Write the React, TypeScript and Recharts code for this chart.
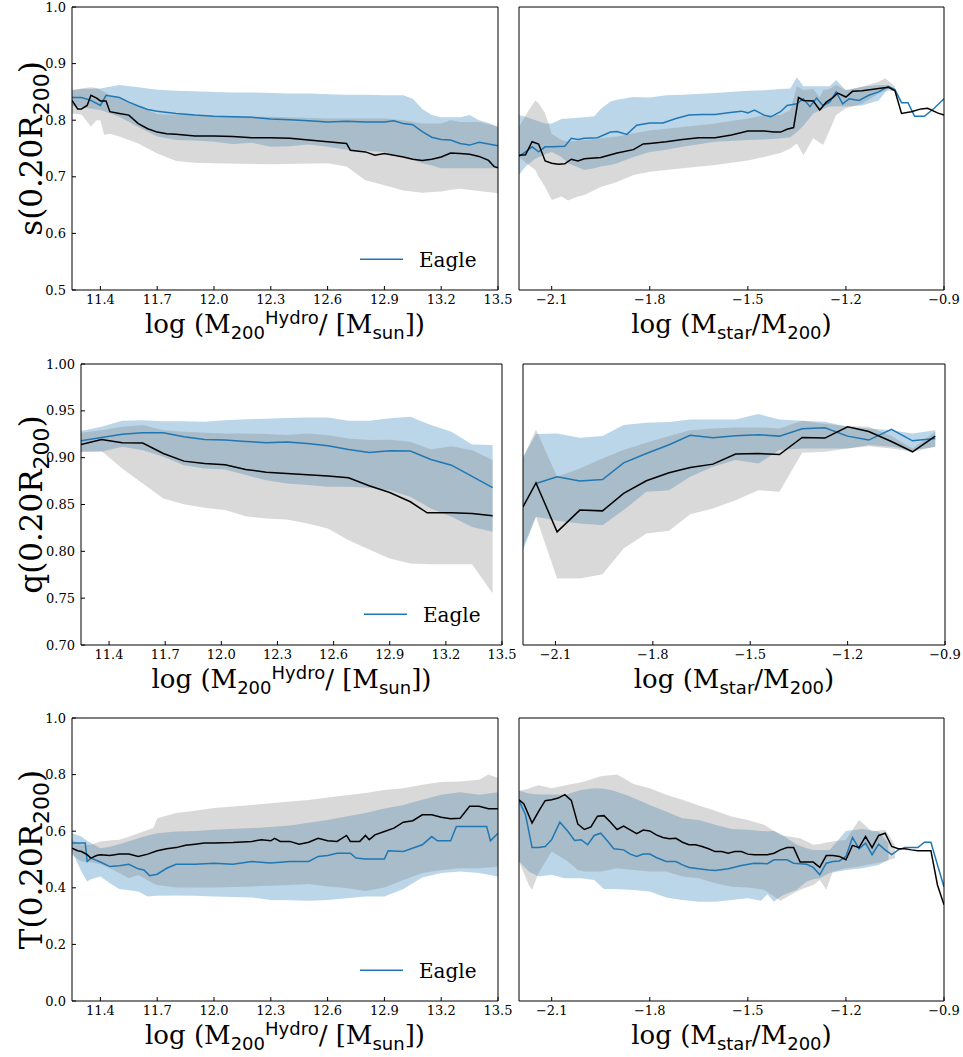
import { ComposedChart, Area, Line, XAxis, YAxis } from "recharts";

type P = [number, number];
type B = [number, number, number];

const SERIF = "DejaVu Serif";
const SANS = "DejaVu Sans";
const BLUE = "#1f77b4";
const GREY = "#808080";

// axis ticks
const massTicks = [11.4, 11.7, 12.0, 12.3, 12.6, 12.9, 13.2, 13.5];
const ratioTicks = [-2.1, -1.8, -1.5, -1.2, -0.9];
const sTicks = [0.5, 0.6, 0.7, 0.8, 0.9, 1.0];
const qTicks = [0.7, 0.75, 0.8, 0.85, 0.9, 0.95, 1.0];
const tTicks = [0, 0.2, 0.4, 0.6, 0.8, 1.0];

// ---- s(0.20R200) vs halo mass ----
const sMassBlue: P[] = [[11.25,0.84],[11.3,0.84],[11.35,0.835],[11.4,0.826],[11.43,0.844],[11.5,0.84],[11.55,0.832],[11.6,0.825],[11.65,0.819],[11.7,0.816],[11.8,0.812],[11.9,0.809],[12.0,0.807],[12.1,0.806],[12.2,0.805],[12.3,0.802],[12.4,0.801],[12.5,0.799],[12.6,0.797],[12.7,0.798],[12.8,0.797],[12.9,0.797],[12.95,0.799],[13.0,0.794],[13.05,0.792],[13.1,0.78],[13.15,0.77],[13.2,0.766],[13.25,0.765],[13.3,0.759],[13.35,0.756],[13.4,0.761],[13.45,0.758],[13.5,0.755]];
const sMassBlack: P[] = [[11.25,0.835],[11.28,0.82],[11.3,0.82],[11.33,0.826],[11.35,0.844],[11.38,0.839],[11.4,0.834],[11.43,0.834],[11.45,0.815],[11.5,0.812],[11.55,0.809],[11.6,0.794],[11.65,0.785],[11.7,0.779],[11.75,0.776],[11.8,0.775],[11.9,0.772],[12.0,0.772],[12.1,0.771],[12.2,0.769],[12.3,0.769],[12.4,0.768],[12.5,0.765],[12.6,0.762],[12.7,0.759],[12.72,0.747],[12.8,0.744],[12.85,0.738],[12.9,0.741],[12.95,0.738],[13.0,0.735],[13.05,0.731],[13.1,0.729],[13.15,0.731],[13.2,0.735],[13.25,0.742],[13.3,0.741],[13.35,0.74],[13.4,0.736],[13.45,0.729],[13.48,0.718],[13.5,0.716]];
const sMassBlueBand: B[] = [[11.25,0.825,0.854],[11.3,0.823,0.855],[11.4,0.818,0.856],[11.5,0.806,0.862],[11.6,0.788,0.858],[11.7,0.771,0.854],[11.8,0.765,0.852],[11.9,0.764,0.851],[12.0,0.762,0.85],[12.1,0.758,0.849],[12.2,0.76,0.849],[12.3,0.753,0.848],[12.4,0.754,0.847],[12.5,0.757,0.847],[12.6,0.753,0.846],[12.7,0.748,0.845],[12.8,0.746,0.845],[12.9,0.744,0.844],[13.0,0.735,0.844],[13.05,0.73,0.838],[13.1,0.724,0.82],[13.15,0.72,0.809],[13.2,0.715,0.805],[13.3,0.715,0.805],[13.35,0.715,0.809],[13.4,0.715,0.8],[13.45,0.715,0.795],[13.5,0.715,0.788]];
const sMassGreyBand: B[] = [[11.25,0.812,0.852],[11.3,0.81,0.856],[11.35,0.789,0.858],[11.38,0.8,0.857],[11.4,0.8,0.854],[11.42,0.774,0.85],[11.45,0.776,0.844],[11.5,0.771,0.838],[11.6,0.759,0.824],[11.7,0.741,0.811],[11.8,0.728,0.809],[11.9,0.725,0.809],[12.0,0.724,0.807],[12.3,0.722,0.806],[12.6,0.724,0.803],[12.7,0.718,0.803],[12.8,0.694,0.803],[12.9,0.685,0.803],[13.0,0.676,0.8],[13.1,0.672,0.794],[13.2,0.674,0.794],[13.25,0.677,0.8],[13.3,0.679,0.797],[13.4,0.675,0.797],[13.5,0.671,0.789]];

// ---- s(0.20R200) vs stellar fraction ----
const sRatioBlue: P[] = [[-2.2,0.736],[-2.18,0.744],[-2.16,0.753],[-2.14,0.744],[-2.12,0.753],[-2.1,0.753],[-2.06,0.754],[-2.04,0.768],[-2.02,0.766],[-2.0,0.768],[-1.96,0.769],[-1.92,0.779],[-1.9,0.78],[-1.87,0.775],[-1.84,0.791],[-1.8,0.795],[-1.76,0.795],[-1.72,0.803],[-1.68,0.809],[-1.64,0.81],[-1.6,0.81],[-1.56,0.813],[-1.52,0.816],[-1.5,0.813],[-1.48,0.818],[-1.45,0.809],[-1.43,0.806],[-1.4,0.815],[-1.38,0.826],[-1.35,0.829],[-1.33,0.838],[-1.31,0.824],[-1.29,0.839],[-1.27,0.826],[-1.25,0.832],[-1.23,0.85],[-1.21,0.829],[-1.19,0.838],[-1.16,0.835],[-1.13,0.844],[-1.1,0.85],[-1.07,0.86],[-1.05,0.854],[-1.03,0.831],[-1.01,0.831],[-0.99,0.807],[-0.96,0.807],[-0.93,0.821],[-0.9,0.838]];
const sRatioBlack: P[] = [[-2.2,0.738],[-2.18,0.739],[-2.16,0.762],[-2.14,0.758],[-2.12,0.728],[-2.1,0.724],[-2.08,0.722],[-2.06,0.723],[-2.04,0.731],[-2.02,0.728],[-2.0,0.732],[-1.95,0.734],[-1.9,0.742],[-1.85,0.748],[-1.82,0.758],[-1.8,0.759],[-1.75,0.762],[-1.7,0.766],[-1.65,0.769],[-1.6,0.769],[-1.55,0.774],[-1.5,0.781],[-1.45,0.781],[-1.42,0.779],[-1.4,0.779],[-1.38,0.784],[-1.36,0.787],[-1.345,0.84],[-1.33,0.835],[-1.3,0.834],[-1.28,0.818],[-1.26,0.832],[-1.24,0.84],[-1.225,0.848],[-1.2,0.841],[-1.18,0.851],[-1.15,0.852],[-1.1,0.856],[-1.07,0.858],[-1.05,0.852],[-1.03,0.812],[-1.0,0.815],[-0.97,0.82],[-0.95,0.821],[-0.92,0.813],[-0.9,0.809]];
const sRatioBlueBand: B[] = [[-2.2,0.703,0.809],[-2.18,0.718,0.806],[-2.15,0.732,0.8],[-2.12,0.74,0.794],[-2.1,0.744,0.794],[-2.07,0.735,0.802],[-2.05,0.724,0.803],[-2.0,0.712,0.805],[-1.97,0.715,0.807],[-1.95,0.718,0.82],[-1.92,0.721,0.833],[-1.9,0.724,0.836],[-1.85,0.735,0.841],[-1.8,0.744,0.84],[-1.75,0.748,0.844],[-1.7,0.753,0.845],[-1.6,0.762,0.848],[-1.5,0.765,0.852],[-1.45,0.766,0.853],[-1.4,0.768,0.855],[-1.37,0.77,0.856],[-1.35,0.779,0.876],[-1.33,0.79,0.86],[-1.3,0.812,0.86],[-1.27,0.82,0.86],[-1.25,0.824,0.86],[-1.23,0.824,0.871],[-1.2,0.824,0.853],[-1.15,0.826,0.859],[-1.1,0.835,0.862],[-1.07,0.856,0.862]];
const sRatioGreyBand: B[] = [[-2.2,0.735,0.788],[-2.17,0.721,0.818],[-2.15,0.712,0.835],[-2.14,0.7,0.83],[-2.12,0.682,0.812],[-2.1,0.659,0.776],[-2.07,0.665,0.765],[-2.05,0.658,0.762],[-2.02,0.665,0.764],[-2.0,0.668,0.765],[-1.95,0.682,0.768],[-1.9,0.691,0.771],[-1.85,0.703,0.777],[-1.8,0.709,0.782],[-1.7,0.715,0.788],[-1.6,0.721,0.794],[-1.5,0.729,0.803],[-1.45,0.735,0.809],[-1.4,0.742,0.809],[-1.37,0.75,0.818],[-1.35,0.759,0.86],[-1.33,0.738,0.853],[-1.3,0.768,0.855],[-1.28,0.76,0.84],[-1.27,0.756,0.853],[-1.25,0.782,0.855],[-1.23,0.809,0.862],[-1.2,0.821,0.853],[-1.15,0.829,0.859],[-1.1,0.847,0.868],[-1.08,0.852,0.874],[-1.05,0.852,0.86]];

// ---- q(0.20R200) vs halo mass ----
const qMassBlue: P[] = [[11.25,0.918],[11.36,0.9216],[11.47,0.925],[11.58,0.9266],[11.69,0.9266],[11.8,0.9223],[11.91,0.9195],[12.02,0.9188],[12.13,0.9173],[12.24,0.916],[12.35,0.9166],[12.46,0.915],[12.57,0.9127],[12.68,0.9088],[12.79,0.9056],[12.9,0.9073],[13.01,0.907],[13.12,0.898],[13.23,0.892],[13.34,0.88],[13.45,0.868]];
const qMassBlack: P[] = [[11.25,0.914],[11.36,0.9195],[11.47,0.916],[11.58,0.9156],[11.69,0.9045],[11.8,0.8963],[11.91,0.8938],[12.02,0.8924],[12.13,0.8874],[12.24,0.8845],[12.35,0.8831],[12.46,0.8817],[12.57,0.8803],[12.68,0.8785],[12.79,0.87],[12.9,0.8628],[13.01,0.8529],[13.1,0.8411],[13.23,0.8411],[13.34,0.8404],[13.45,0.8379]];
const qMassBlueBand: B[] = [[11.25,0.9063,0.9284],[11.36,0.9063,0.933],[11.47,0.9116,0.9394],[11.58,0.908,0.94],[11.69,0.901,0.939],[11.8,0.892,0.939],[11.91,0.8885,0.9384],[12.02,0.8874,0.94],[12.13,0.8814,0.941],[12.24,0.876,0.9416],[12.35,0.8724,0.9423],[12.46,0.8707,0.943],[12.57,0.869,0.943],[12.68,0.869,0.9394],[12.79,0.868,0.9394],[12.9,0.8653,0.942],[13.01,0.8582,0.9437],[13.12,0.8457,0.9348],[13.23,0.8368,0.9277],[13.34,0.8261,0.914],[13.45,0.8208,0.9134]];
const qMassGreyBand: B[] = [[11.25,0.9063,0.9266],[11.36,0.907,0.9294],[11.47,0.8885,0.933],[11.58,0.8724,0.9348],[11.69,0.8564,0.9294],[11.8,0.8504,0.9277],[11.91,0.8464,0.9266],[12.02,0.844,0.9259],[12.13,0.8375,0.9259],[12.24,0.835,0.9252],[12.35,0.834,0.9241],[12.46,0.8297,0.9259],[12.57,0.8244,0.924],[12.68,0.8119,0.9205],[12.79,0.802,0.9188],[12.9,0.7923,0.919],[13.01,0.787,0.917],[13.12,0.7862,0.9088],[13.23,0.7862,0.9123],[13.34,0.7862,0.908],[13.45,0.7549,0.8974]];

// ---- q(0.20R200) vs stellar fraction ----
const qRatioBlue: P[] = [[-2.16,0.8725],[-2.095,0.8796],[-2.025,0.875],[-1.955,0.8767],[-1.89,0.8945],[-1.82,0.9045],[-1.75,0.9138],[-1.685,0.9238],[-1.615,0.9213],[-1.545,0.9234],[-1.475,0.9245],[-1.41,0.923],[-1.34,0.9309],[-1.27,0.932],[-1.2,0.923],[-1.135,0.9188],[-1.065,0.9302],[-1.0,0.918],[-0.93,0.9205]];
const qRatioBlack: P[] = [[-2.2,0.8475],[-2.16,0.8731],[-2.095,0.8208],[-2.025,0.844],[-1.955,0.8432],[-1.89,0.8618],[-1.82,0.8753],[-1.75,0.8839],[-1.685,0.8895],[-1.615,0.8931],[-1.545,0.9038],[-1.475,0.9045],[-1.41,0.9034],[-1.34,0.9216],[-1.27,0.9209],[-1.2,0.933],[-1.135,0.928],[-1.065,0.9173],[-1.0,0.9063],[-0.93,0.923]];
const qRatioBlueBand: B[] = [[-2.2,0.8012,0.901],[-2.16,0.8368,0.9252],[-2.095,0.8326,0.9259],[-2.025,0.8297,0.9213],[-1.955,0.8279,0.923],[-1.89,0.844,0.9348],[-1.82,0.8635,0.9373],[-1.75,0.8653,0.938],[-1.685,0.8796,0.9408],[-1.615,0.8903,0.9408],[-1.545,0.8974,0.9408],[-1.475,0.8938,0.9466],[-1.41,0.9081,0.9408],[-1.34,0.9099,0.9394],[-1.27,0.9099,0.9384],[-1.2,0.9099,0.933],[-1.135,0.9134,0.9312],[-1.065,0.9116,0.9294],[-1.0,0.908,0.9259],[-0.93,0.9116,0.9294]];
const qRatioGreyBand: B[] = [[-2.2,0.8048,0.8991],[-2.16,0.8368,0.9302],[-2.095,0.7709,0.8796],[-2.025,0.7709,0.8885],[-1.955,0.7755,0.8991],[-1.89,0.803,0.9081],[-1.82,0.819,0.9159],[-1.75,0.8219,0.923],[-1.685,0.8397,0.9294],[-1.615,0.8457,0.9312],[-1.545,0.8546,0.9323],[-1.475,0.8653,0.9323],[-1.41,0.8635,0.9312],[-1.34,0.9052,0.9394],[-1.27,0.9063,0.9359],[-1.2,0.9099,0.9337],[-1.135,0.9123,0.933],[-1.065,0.9099,0.923],[-1.0,0.9063,0.9099],[-0.93,0.9116,0.9277]];

// ---- T(0.20R200) vs halo mass ----
const tMassBlue: P[] = [[11.25,0.558],[11.3,0.558],[11.32,0.558],[11.33,0.493],[11.35,0.505],[11.4,0.491],[11.45,0.475],[11.5,0.478],[11.55,0.483],[11.6,0.467],[11.63,0.463],[11.66,0.443],[11.7,0.448],[11.75,0.469],[11.8,0.483],[11.9,0.483],[12.0,0.487],[12.1,0.483],[12.2,0.493],[12.3,0.488],[12.4,0.493],[12.5,0.493],[12.55,0.511],[12.6,0.514],[12.65,0.522],[12.72,0.522],[12.75,0.505],[12.8,0.502],[12.9,0.502],[12.92,0.531],[13.0,0.528],[13.1,0.552],[13.15,0.581],[13.18,0.566],[13.25,0.566],[13.28,0.617],[13.4,0.617],[13.44,0.617],[13.46,0.566],[13.5,0.593]];
const tMassBlack: P[] = [[11.25,0.54],[11.28,0.531],[11.3,0.528],[11.33,0.517],[11.35,0.505],[11.38,0.514],[11.4,0.517],[11.45,0.514],[11.5,0.519],[11.55,0.519],[11.6,0.511],[11.65,0.519],[11.7,0.531],[11.75,0.538],[11.8,0.542],[11.85,0.55],[11.9,0.554],[11.95,0.558],[12.0,0.558],[12.1,0.56],[12.2,0.564],[12.25,0.57],[12.3,0.566],[12.32,0.575],[12.35,0.564],[12.4,0.564],[12.45,0.554],[12.5,0.561],[12.55,0.575],[12.6,0.566],[12.65,0.564],[12.7,0.585],[12.72,0.564],[12.77,0.564],[12.8,0.585],[12.82,0.57],[12.85,0.587],[12.9,0.599],[12.95,0.611],[13.0,0.632],[13.05,0.637],[13.1,0.658],[13.15,0.658],[13.2,0.649],[13.25,0.644],[13.3,0.646],[13.35,0.688],[13.4,0.688],[13.45,0.679],[13.5,0.679]];
const tMassBlueBand: B[] = [[11.25,0.528,0.593],[11.3,0.458,0.581],[11.33,0.422,0.565],[11.35,0.43,0.558],[11.4,0.44,0.54],[11.45,0.416,0.545],[11.5,0.396,0.554],[11.6,0.387,0.575],[11.65,0.369,0.585],[11.7,0.372,0.593],[11.8,0.373,0.599],[11.9,0.372,0.601],[12.0,0.369,0.605],[12.2,0.366,0.611],[12.3,0.357,0.615],[12.4,0.356,0.62],[12.5,0.354,0.63],[12.6,0.357,0.64],[12.7,0.363,0.652],[12.8,0.369,0.664],[12.9,0.369,0.68],[13.0,0.396,0.693],[13.1,0.436,0.711],[13.2,0.452,0.729],[13.3,0.458,0.738],[13.4,0.452,0.729],[13.5,0.44,0.738]];
const tMassGreyBand: B[] = [[11.25,0.517,0.57],[11.3,0.493,0.552],[11.35,0.49,0.552],[11.4,0.483,0.564],[11.45,0.469,0.567],[11.5,0.452,0.57],[11.55,0.434,0.58],[11.6,0.445,0.593],[11.68,0.415,0.611],[11.7,0.41,0.646],[11.8,0.401,0.664],[11.9,0.401,0.672],[12.0,0.401,0.682],[12.2,0.405,0.693],[12.4,0.41,0.705],[12.5,0.413,0.71],[12.6,0.405,0.719],[12.7,0.399,0.727],[12.8,0.389,0.735],[12.9,0.401,0.746],[13.0,0.428,0.752],[13.1,0.452,0.764],[13.2,0.463,0.774],[13.3,0.469,0.776],[13.4,0.469,0.782],[13.45,0.472,0.8],[13.5,0.475,0.788]];

// ---- T(0.20R200) vs stellar fraction ----
const tRatioBlue: P[] = [[-2.2,0.708],[-2.18,0.658],[-2.16,0.542],[-2.14,0.542],[-2.12,0.546],[-2.1,0.57],[-2.075,0.632],[-2.05,0.599],[-2.03,0.567],[-2.01,0.57],[-1.99,0.552],[-1.97,0.585],[-1.95,0.593],[-1.93,0.566],[-1.91,0.538],[-1.88,0.534],[-1.86,0.519],[-1.84,0.511],[-1.82,0.519],[-1.8,0.519],[-1.78,0.507],[-1.75,0.493],[-1.72,0.493],[-1.7,0.481],[-1.68,0.472],[-1.65,0.467],[-1.62,0.463],[-1.6,0.461],[-1.56,0.467],[-1.52,0.479],[-1.48,0.487],[-1.44,0.485],[-1.42,0.499],[-1.38,0.499],[-1.36,0.487],[-1.32,0.483],[-1.3,0.472],[-1.28,0.446],[-1.26,0.487],[-1.24,0.493],[-1.22,0.495],[-1.2,0.511],[-1.18,0.578],[-1.16,0.538],[-1.14,0.558],[-1.12,0.517],[-1.1,0.554],[-1.08,0.534],[-1.06,0.517],[-1.04,0.534],[-1.02,0.542],[-1.0,0.542],[-0.98,0.542],[-0.96,0.561],[-0.94,0.561],[-0.92,0.481],[-0.9,0.404]];
const tRatioBlack: P[] = [[-2.2,0.711],[-2.185,0.696],[-2.16,0.629],[-2.14,0.67],[-2.12,0.708],[-2.1,0.711],[-2.08,0.717],[-2.06,0.729],[-2.04,0.709],[-2.02,0.625],[-2.0,0.606],[-1.98,0.615],[-1.96,0.653],[-1.94,0.655],[-1.92,0.632],[-1.9,0.606],[-1.88,0.618],[-1.86,0.605],[-1.84,0.591],[-1.82,0.604],[-1.8,0.601],[-1.78,0.587],[-1.76,0.578],[-1.74,0.573],[-1.72,0.575],[-1.7,0.561],[-1.68,0.552],[-1.66,0.552],[-1.64,0.546],[-1.62,0.538],[-1.6,0.528],[-1.58,0.528],[-1.56,0.522],[-1.54,0.528],[-1.52,0.528],[-1.5,0.519],[-1.48,0.517],[-1.46,0.517],[-1.44,0.517],[-1.42,0.522],[-1.4,0.534],[-1.38,0.542],[-1.36,0.542],[-1.34,0.491],[-1.32,0.491],[-1.3,0.491],[-1.28,0.472],[-1.26,0.514],[-1.24,0.514],[-1.22,0.511],[-1.2,0.499],[-1.18,0.55],[-1.16,0.542],[-1.14,0.581],[-1.12,0.542],[-1.1,0.585],[-1.08,0.593],[-1.06,0.546],[-1.04,0.538],[-1.02,0.538],[-1.0,0.534],[-0.98,0.531],[-0.96,0.531],[-0.94,0.531],[-0.92,0.41],[-0.9,0.34]];
const tRatioBlueBand: B[] = [[-2.2,0.493,0.743],[-2.17,0.458,0.733],[-2.14,0.44,0.73],[-2.1,0.446,0.73],[-2.06,0.434,0.729],[-2.01,0.434,0.746],[-1.97,0.428,0.752],[-1.94,0.396,0.75],[-1.91,0.396,0.743],[-1.86,0.393,0.723],[-1.8,0.387,0.693],[-1.75,0.366,0.67],[-1.7,0.357,0.646],[-1.65,0.351,0.64],[-1.6,0.351,0.623],[-1.55,0.357,0.608],[-1.5,0.363,0.605],[-1.46,0.354,0.601],[-1.44,0.377,0.6],[-1.42,0.351,0.601],[-1.4,0.369,0.59],[-1.38,0.38,0.575],[-1.35,0.393,0.552],[-1.32,0.422,0.54],[-1.3,0.43,0.534],[-1.28,0.434,0.534],[-1.25,0.452,0.534],[-1.2,0.463,0.601],[-1.15,0.469,0.608],[-1.1,0.481,0.599],[-1.07,0.499,0.558]];
const tRatioGreyBand: B[] = [[-2.2,0.493,0.743],[-2.17,0.41,0.75],[-2.16,0.393,0.755],[-2.14,0.452,0.762],[-2.1,0.528,0.752],[-2.05,0.493,0.764],[-2.02,0.463,0.77],[-2.0,0.458,0.776],[-1.95,0.458,0.794],[-1.9,0.469,0.8],[-1.85,0.463,0.767],[-1.8,0.458,0.752],[-1.75,0.458,0.729],[-1.7,0.44,0.711],[-1.65,0.434,0.691],[-1.6,0.416,0.672],[-1.55,0.404,0.652],[-1.5,0.401,0.64],[-1.45,0.393,0.623],[-1.4,0.354,0.587],[-1.37,0.375,0.58],[-1.34,0.393,0.575],[-1.3,0.41,0.552],[-1.28,0.428,0.555],[-1.26,0.393,0.56],[-1.24,0.458,0.564],[-1.2,0.469,0.57],[-1.16,0.475,0.64],[-1.12,0.485,0.599],[-1.08,0.493,0.605],[-1.05,0.505,0.552]];

const pts = (a: P[]) => a.map(([x, y]) => ({ x, y }));
const band = (a: B[]) => a.map(([x, lo, hi]) => ({ x, v: [lo, hi] }));
const minus = (s: string) => s.replace("-", "\u2212");

const axisStroke = { stroke: "#000", strokeWidth: 1 };
const tickFont = { fill: "#000", fontSize: 13, fontFamily: SERIF };

type PanelProps = {
  box: [number, number, number, number];
  xDomain: [number, number];
  xTicks: number[];
  yDomain: [number, number];
  yTicks: number[];
  yDigits: number;
  yLabels: boolean;
  blueBand: B[];
  greyBand: B[];
  blue: P[];
  black: P[];
};

function Panel({ box, xDomain, xTicks, yDomain, yTicks, yDigits, yLabels, blueBand, greyBand, blue, black }: PanelProps) {
  const [x0, y0, x1, y1] = box;
  const ML = yLabels ? 60 : 6;
  const MT = 6, MR = 20, MB = 30;
  // top / right axes take 1px each, so trim the margins by the same amount
  return (
    <div style={{ position: "absolute", left: x0 - ML, top: y0 - MT }}>
      <ComposedChart width={x1 - x0 + ML + MR} height={y1 - y0 + MT + MB} margin={{ top: MT - 1, right: MR - 1, bottom: 0, left: 0 }}>
        <XAxis xAxisId="b" type="number" dataKey="x" domain={xDomain} ticks={xTicks} interval={0} allowDataOverflow
          height={MB} tickSize={-4} tickMargin={9} tick={tickFont} axisLine={axisStroke} tickLine={axisStroke}
          tickFormatter={(v: number) => minus(v.toFixed(1))} />
        <XAxis xAxisId="t" orientation="top" type="number" dataKey="x" domain={xDomain} ticks={xTicks} interval={0} allowDataOverflow
          height={1} tickSize={-4} tick={false} axisLine={axisStroke} tickLine={axisStroke} />
        <YAxis yAxisId="l" type="number" domain={yDomain} ticks={yTicks} interval={0} allowDataOverflow
          width={ML} tickSize={-4} tickMargin={10} tick={yLabels ? tickFont : false} axisLine={axisStroke} tickLine={axisStroke}
          tickFormatter={(v: number) => v.toFixed(yDigits)} />
        <YAxis yAxisId="r" orientation="right" type="number" domain={yDomain} ticks={yTicks} interval={0} allowDataOverflow
          width={1} tickSize={-4} tick={false} axisLine={axisStroke} tickLine={axisStroke} />
        <Area xAxisId="b" yAxisId="l" data={band(blueBand)} dataKey="v" type="linear" stroke="none" fill={BLUE} fillOpacity={0.3} isAnimationActive={false} activeDot={false} />
        <Area xAxisId="b" yAxisId="l" data={band(greyBand)} dataKey="v" type="linear" stroke="none" fill={GREY} fillOpacity={0.3} isAnimationActive={false} activeDot={false} />
        <Line xAxisId="b" yAxisId="l" data={pts(blue)} dataKey="y" type="linear" stroke={BLUE} strokeWidth={1.5} dot={false} activeDot={false} isAnimationActive={false} />
        <Line xAxisId="b" yAxisId="l" data={pts(black)} dataKey="y" type="linear" stroke="#000" strokeWidth={1.5} dot={false} activeDot={false} isAnimationActive={false} />
        {/* invisible copy bound to the top/right axes so they get drawn */}
        <Line xAxisId="t" yAxisId="r" data={pts(black)} dataKey="y" type="linear" stroke="none" dot={false} activeDot={false} isAnimationActive={false} />
      </ComposedChart>
    </div>
  );
}

function MassLabel({ cx, y }: { cx: number; y: number }) {
  return (
    <text x={cx} y={y} textAnchor="middle" fontFamily={SERIF} fontSize={26} fill="#000">
      log (M
      <tspan fontFamily={SANS} fontSize={18} dy={6}>200</tspan>
      <tspan fontFamily={SANS} fontSize={18} dy={-15}>Hydro</tspan>
      <tspan dy={9}>/ [M</tspan>
      <tspan fontFamily={SANS} fontSize={18} dy={6}>sun</tspan>
      <tspan dy={-6}>])</tspan>
    </text>
  );
}

function RatioLabel({ cx, y }: { cx: number; y: number }) {
  return (
    <text x={cx} y={y} textAnchor="middle" fontFamily={SERIF} fontSize={26} fill="#000">
      log (M
      <tspan fontFamily={SANS} fontSize={18} dy={6}>star</tspan>
      <tspan dy={-6}>/M</tspan>
      <tspan fontFamily={SANS} fontSize={18} dy={6}>200</tspan>
      <tspan dy={-6}>)</tspan>
    </text>
  );
}

function YLabel({ sym, x, cy }: { sym: string; x: number; cy: number }) {
  return (
    <text x={x} y={cy} transform={`rotate(-90 ${x} ${cy})`} textAnchor="middle" fontFamily={SERIF} fontSize={31} fill="#000">
      {sym}(0.20R
      <tspan fontFamily={SANS} fontSize={22} dy={7}>200</tspan>
      <tspan dy={-7}>)</tspan>
    </text>
  );
}

function EagleKey({ right, bottom }: { right: number; bottom: number }) {
  return (
    <g>
      <line x1={right - 138} x2={right - 95} y1={bottom - 30.7} y2={bottom - 30.7} stroke={BLUE} strokeWidth={1.5} />
      <text x={right - 79} y={bottom - 23.3} fontFamily={SERIF} fontSize={20} fill="#000">Eagle</text>
    </g>
  );
}

const rows = [
  { sym: "s", top: 7, bottom: 290, left: [72, 498], right: [519, 944], yDomain: [0.5, 1.0] as [number, number], yTicks: sTicks, yDigits: 1,
    mass: [sMassBlueBand, sMassGreyBand, sMassBlue, sMassBlack] as const, ratio: [sRatioBlueBand, sRatioGreyBand, sRatioBlue, sRatioBlack] as const },
  { sym: "q", top: 364, bottom: 645, left: [81, 502], right: [523, 945], yDomain: [0.7, 1.0] as [number, number], yTicks: qTicks, yDigits: 2,
    mass: [qMassBlueBand, qMassGreyBand, qMassBlue, qMassBlack] as const, ratio: [qRatioBlueBand, qRatioGreyBand, qRatioBlue, qRatioBlack] as const },
  { sym: "T", top: 718, bottom: 1001, left: [72, 498], right: [519, 944], yDomain: [0, 1.0] as [number, number], yTicks: tTicks, yDigits: 1,
    mass: [tMassBlueBand, tMassGreyBand, tMassBlue, tMassBlack] as const, ratio: [tRatioBlueBand, tRatioGreyBand, tRatioBlue, tRatioBlack] as const },
];

export default function App() {
  return (
    <div style={{ position: "absolute", left: 0, top: 0, width: 963, height: 1057, background: "#fff" }}>
      {rows.map((r) => (
        <div key={r.sym}>
          <Panel box={[r.left[0], r.top, r.left[1], r.bottom]} xDomain={[11.25, 13.5]} xTicks={massTicks}
            yDomain={r.yDomain} yTicks={r.yTicks} yDigits={r.yDigits} yLabels
            blueBand={r.mass[0]} greyBand={r.mass[1]} blue={r.mass[2]} black={r.mass[3]} />
          <Panel box={[r.right[0], r.top, r.right[1], r.bottom]} xDomain={[-2.2, -0.9]} xTicks={ratioTicks}
            yDomain={r.yDomain} yTicks={r.yTicks} yDigits={r.yDigits} yLabels={false}
            blueBand={r.ratio[0]} greyBand={r.ratio[1]} blue={r.ratio[2]} black={r.ratio[3]} />
        </div>
      ))}
      <svg width={963} height={1057} style={{ position: "absolute", left: 0, top: 0, pointerEvents: "none" }}>
        {rows.map((r) => (
          <g key={r.sym}>
            <YLabel sym={r.sym} x={41.5} cy={(r.top + r.bottom) / 2} />
            <MassLabel cx={(r.left[0] + r.left[1]) / 2} y={r.bottom + 43} />
            <RatioLabel cx={(r.right[0] + r.right[1]) / 2} y={r.bottom + 43} />
            <EagleKey right={r.left[1]} bottom={r.bottom} />
          </g>
        ))}
      </svg>
    </div>
  );
}
